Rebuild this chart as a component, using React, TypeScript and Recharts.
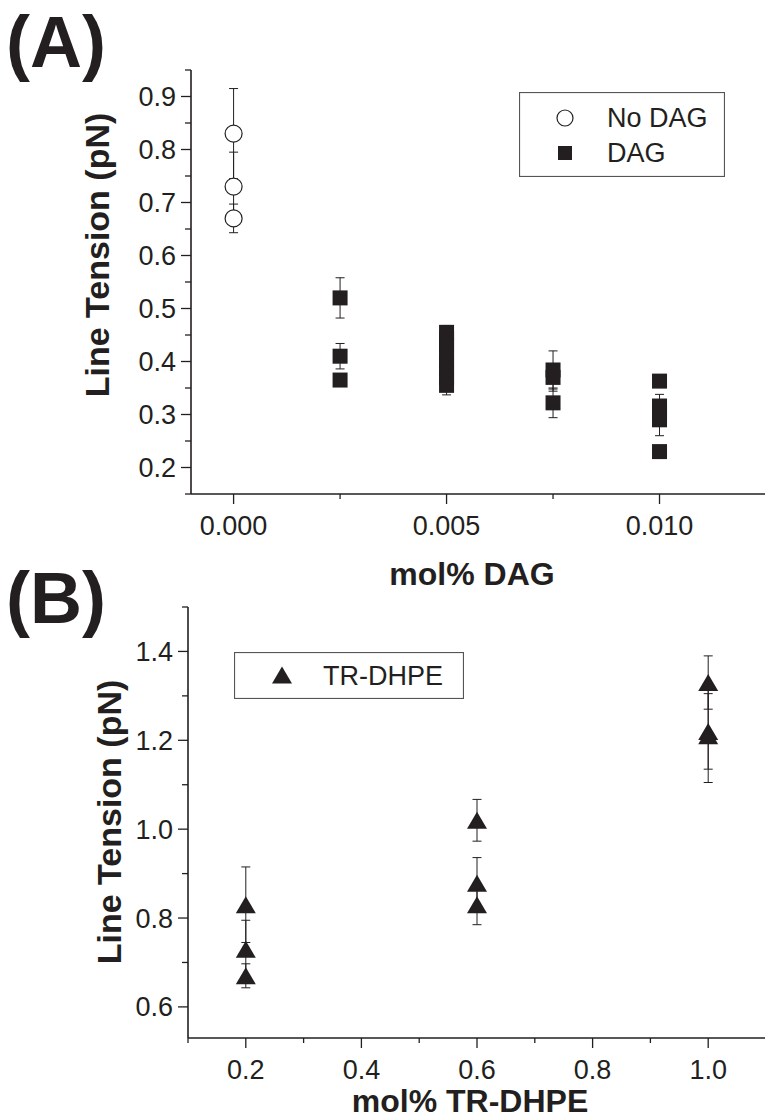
import { ScatterChart, Scatter, XAxis, YAxis, ErrorBar, Legend } from "recharts";

const INK = "#231f20";
const FONT = '"Liberation Sans", Arial, Helvetica, sans-serif';

// ---- panel A: line tension vs mol% DAG ----
const noDagX = [0, 0, 0];
const noDagY = [0.83, 0.73, 0.67];
const noDagErr = [0.085, 0.065, 0.027];

const dagX = [
  0.0025, 0.0025, 0.0025,
  0.005, 0.005, 0.005, 0.005, 0.005, 0.005, 0.005, 0.005,
  0.0075, 0.0075, 0.0075,
  0.01, 0.01, 0.01, 0.01, 0.01,
];
const dagY = [
  0.52, 0.41, 0.365,
  0.455, 0.443, 0.43, 0.415, 0.4, 0.385, 0.37, 0.355,
  0.384, 0.37, 0.322,
  0.363, 0.316, 0.305, 0.29, 0.23,
];
const dagErr = [
  0.038, 0.024, 0.008,
  0.013, 0.01, 0.01, 0.01, 0.01, 0.01, 0.012, 0.018,
  0.036, 0.026, 0.028,
  0.006, 0.022, 0.012, 0.03, 0.008,
];

const aXTicks = [0, 0.0025, 0.005, 0.0075, 0.01, 0.0125];
const aXLabels = [0, 0.005, 0.01];
const aYTicks = [0.15, 0.2, 0.25, 0.3, 0.35, 0.4, 0.45, 0.5, 0.55, 0.6, 0.65, 0.7, 0.75, 0.8, 0.85, 0.9, 0.95];
const aYLabels = [0.2, 0.3, 0.4, 0.5, 0.6, 0.7, 0.8, 0.9];

// ---- panel B: line tension vs mol% TR-DHPE ----
const trX = [0.2, 0.2, 0.2, 0.6, 0.6, 0.6, 1.0, 1.0, 1.0];
const trY = [0.83, 0.73, 0.67, 1.02, 0.878, 0.83, 1.33, 1.22, 1.21];
const trErr = [0.085, 0.065, 0.027, 0.047, 0.058, 0.045, 0.06, 0.085, 0.105];

const bXTicks = [0.1, 0.2, 0.3, 0.4, 0.5, 0.6, 0.7, 0.8, 0.9, 1.0, 1.1];
const bXLabels = [0.2, 0.4, 0.6, 0.8, 1.0];
const bYTicks = [0.6, 0.7, 0.8, 0.9, 1.0, 1.1, 1.2, 1.3, 1.4, 1.5];
const bYLabels = [0.6, 0.8, 1.0, 1.2, 1.4];

const zip = (xs: number[], ys: number[], es: number[]) =>
  xs.map((x, i) => ({ x, y: ys[i], err: es[i] }));

const noDagData = zip(noDagX, noDagY, noDagErr);
const dagData = zip(dagX, dagY, dagErr);
const trData = zip(trX, trY, trErr);

const tickText = { fontFamily: FONT, fontSize: 27, fill: INK };
const isMajor = (v: number, majors: number[]) => majors.some((m) => Math.abs(m - v) < 1e-9);

type TickProps = { x?: number; y?: number; payload?: { value: number } };

function bottomTick(majors: number[], digits: number) {
  return ({ x = 0, y = 0, payload }: TickProps) => {
    const v = payload?.value ?? 0;
    const major = isMajor(v, majors);
    return (
      <g>
        <line x1={x} x2={x} y1={y} y2={y + (major ? 10 : 5)} stroke={INK} strokeWidth={1.3} />
        {major && (
          <text x={x} y={y + 41} textAnchor="middle" style={tickText}>
            {v.toFixed(digits)}
          </text>
        )}
      </g>
    );
  };
}

function topTick({ x = 0, y = 0 }: TickProps) {
  return <line x1={x} x2={x} y1={y} y2={y + 3} stroke={INK} strokeWidth={1} />;
}

function leftTick(majors: number[], digits: number) {
  return ({ x = 0, y = 0, payload }: TickProps) => {
    const v = payload?.value ?? 0;
    const major = isMajor(v, majors);
    return (
      <g>
        <line x1={x - (major ? 10 : 6)} x2={x} y1={y} y2={y} stroke={INK} strokeWidth={1.3} />
        {major && (
          <text x={x - 15} y={y + 9.5} textAnchor="end" style={tickText}>
            {v.toFixed(digits)}
          </text>
        )}
      </g>
    );
  };
}

const circleShape = (p: any) => (
  <circle cx={p.cx} cy={p.cy} r={8.5} fill="#fff" stroke={INK} strokeWidth={1.2} />
);
const squareShape = (p: any) => <rect x={p.cx - 7.5} y={p.cy - 7.5} width={15} height={15} fill={INK} />;
const triangleShape = (p: any) => (
  <path d={`M${p.cx},${p.cy - 8.5}L${p.cx + 10},${p.cy + 8.5}L${p.cx - 10},${p.cy + 8.5}Z`} fill={INK} />
);

const legendText = { fontFamily: FONT, fontSize: 27, fill: INK };

function LegendA() {
  return (
    <svg width={206} height={85} style={{ display: "block" }}>
      <rect x={0.5} y={0.5} width={205} height={84} fill="#fff" stroke="#555" strokeWidth={1.2} />
      <circle cx={46} cy={26} r={8} fill="#fff" stroke={INK} strokeWidth={1.2} />
      <text x={88} y={35} style={legendText}>No DAG</text>
      <rect x={39} y={54} width={14} height={14} fill={INK} />
      <text x={88} y={70} style={legendText}>DAG</text>
    </svg>
  );
}

function LegendB() {
  return (
    <svg width={230} height={47} style={{ display: "block" }}>
      <rect x={0.5} y={0.5} width={229} height={46} fill="#fff" stroke="#555" strokeWidth={1.2} />
      <path d="M48,14.5L58,31.5L38,31.5Z" fill={INK} />
      <text x={89} y={33} style={legendText}>TR-DHPE</text>
    </svg>
  );
}

const titleStyle = {
  position: "absolute" as const,
  fontFamily: FONT,
  fontWeight: 700,
  color: INK,
  lineHeight: 1,
  whiteSpace: "nowrap" as const,
};

export default function App() {
  return (
    <div
      style={{
        position: "absolute",
        left: 0,
        top: 0,
        width: 765,
        height: 1118,
        overflow: "hidden",
        background: "#fff",
      }}
    >
      {/* panel A */}
      <div style={{ position: "absolute", left: 0, top: 0 }}>
        <ScatterChart width={766} height={580} margin={{ top: 70, right: 0, bottom: 6, left: 131 }}>
          <XAxis
            type="number"
            dataKey="x"
            domain={[-0.001, 0.0125]}
            ticks={aXTicks}
            interval={0}
            height={80}
            tickLine={false}
            tickSize={0}
            tickMargin={0}
            tick={bottomTick(aXLabels, 3)}
            axisLine={{ stroke: INK, strokeWidth: 1.6 }}
            allowDataOverflow
          />
          <XAxis
            xAxisId="top"
            orientation="top"
            type="number"
            domain={[-0.001, 0.0125]}
            ticks={aXTicks}
            interval={0}
            height={0}
            tickLine={false}
            tickSize={0}
            tickMargin={0}
            tick={topTick}
            axisLine={{ stroke: INK, strokeWidth: 1.2 }}
            allowDataOverflow
          />
          <YAxis
            type="number"
            dataKey="y"
            domain={[0.15, 0.95]}
            ticks={aYTicks}
            interval={0}
            width={60}
            tickLine={false}
            tickSize={0}
            tickMargin={0}
            tick={leftTick(aYLabels, 1)}
            axisLine={{ stroke: INK, strokeWidth: 1.6 }}
            allowDataOverflow
          />
          <Legend
            layout="horizontal"
            align="center"
            verticalAlign="middle"
            content={() => <LegendA />}
            wrapperStyle={{ left: 519, top: 92, width: 206, height: 85 }}
          />
          <Scatter name="No DAG" data={noDagData} shape={circleShape} isAnimationActive={false}>
            <ErrorBar dataKey="err" direction="y" width={4.5} stroke={INK} strokeWidth={1} />
          </Scatter>
          <Scatter name="DAG" data={dagData} shape={squareShape} isAnimationActive={false}>
            <ErrorBar dataKey="err" direction="y" width={4.5} stroke={INK} strokeWidth={1} />
          </Scatter>
        </ScatterChart>
      </div>

      {/* panel B */}
      <div style={{ position: "absolute", left: 0, top: 590 }}>
        <ScatterChart width={766} height={528} margin={{ top: 17, right: 0, bottom: 0, left: 128 }}>
          <XAxis
            type="number"
            dataKey="x"
            domain={[0.1, 1.1]}
            ticks={bXTicks}
            interval={0}
            height={80}
            tickLine={false}
            tickSize={0}
            tickMargin={0}
            tick={bottomTick(bXLabels, 1)}
            axisLine={{ stroke: INK, strokeWidth: 1.6 }}
            allowDataOverflow
          />
          <XAxis
            xAxisId="top"
            orientation="top"
            type="number"
            domain={[0.1, 1.1]}
            ticks={bXTicks}
            interval={0}
            height={0}
            tickLine={false}
            tickSize={0}
            tickMargin={0}
            tick={topTick}
            axisLine={{ stroke: INK, strokeWidth: 1.2 }}
            allowDataOverflow
          />
          <YAxis
            type="number"
            dataKey="y"
            domain={[0.53, 1.5]}
            ticks={bYTicks}
            interval={0}
            width={60}
            tickLine={false}
            tickSize={0}
            tickMargin={0}
            tick={leftTick(bYLabels, 1)}
            axisLine={{ stroke: INK, strokeWidth: 1.6 }}
            allowDataOverflow
          />
          <Legend
            layout="horizontal"
            align="center"
            verticalAlign="middle"
            content={() => <LegendB />}
            wrapperStyle={{ left: 234, top: 62, width: 230, height: 47 }}
          />
          <Scatter name="TR-DHPE" data={trData} shape={triangleShape} isAnimationActive={false}>
            <ErrorBar dataKey="err" direction="y" width={4.5} stroke={INK} strokeWidth={1} />
          </Scatter>
        </ScatterChart>
      </div>

      {/* panel letters and axis titles */}
      <div style={{ ...titleStyle, fontSize: 72, left: 6, top: 42, transform: "translateY(-50%)" }}>(A)</div>
      <div style={{ ...titleStyle, fontSize: 72, left: 6, top: 598, transform: "translateY(-50%)" }}>(B)</div>

      <div style={{ ...titleStyle, fontSize: 32, left: 472, top: 574, transform: "translate(-50%, -50%)" }}>
        mol% DAG
      </div>
      <div style={{ ...titleStyle, fontSize: 32, left: 470, top: 1101, transform: "translate(-50%, -50%)" }}>
        mol% TR-DHPE
      </div>

      <div
        style={{ ...titleStyle, fontSize: 34, left: 97, top: 255, transform: "translate(-50%, -50%) rotate(-90deg)" }}
      >
        Line Tension (pN)
      </div>
      <div
        style={{ ...titleStyle, fontSize: 34, left: 109, top: 822, transform: "translate(-50%, -50%) rotate(-90deg)" }}
      >
        Line Tension (pN)
      </div>
    </div>
  );
}
